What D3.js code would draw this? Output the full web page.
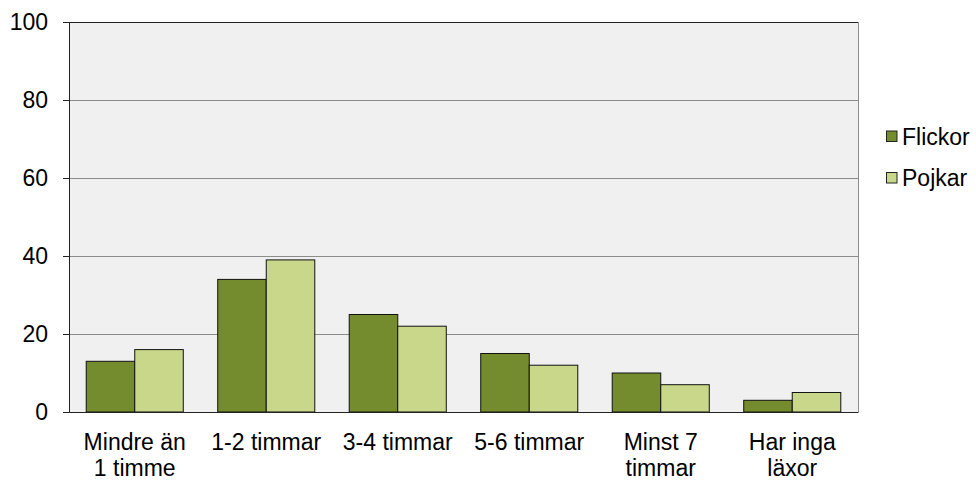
<!DOCTYPE html>
<html><head><meta charset="utf-8">
<script src="https://cdn.jsdelivr.net/npm/d3@7"></script>
<style>body{margin:0;background:#fff}svg{display:block}text{font-family:Arial,"Liberation Sans",sans-serif}</style>
</head><body>
<svg id="c" width="976" height="480"></svg>
<script>
const categories = [["Mindre än","1 timme"],["1-2 timmar"],["3-4 timmar"],["5-6 timmar"],["Minst 7","timmar"],["Har inga","läxor"]];
const seriesNames = ["Flickor","Pojkar"];
const flickor = [13,34,25,15,10,3];
const pojkar = [16,39,22,12,7,5];
const yTicks = [0,20,40,60,80,100];
const colors = ["#748B2E","#C8D78A"];
const FS = 23;

const svg = d3.select("#c");
const L=69,R=858,T=22,B=412;
const x = d3.scaleBand().domain(d3.range(categories.length)).range([L,R]).paddingInner(0.262).paddingOuter(0.131);
const x0 = d3.scaleBand().domain(d3.range(categories.length)).range([L,R]);
const xs = d3.scaleBand().domain([0,1]).range([0,x.bandwidth()]);
const y = d3.scaleLinear().domain([0,100]).range([B,T]);

svg.append("rect").attr("x",L).attr("y",T).attr("width",R-L).attr("height",B-T).attr("fill","#F0F0F0");
svg.append("g").selectAll("line").data(yTicks.filter(d=>d>0)).join("line")
  .attr("x1",L).attr("x2",R).attr("y1",d=>y(d)).attr("y2",d=>y(d))
  .attr("stroke",d=>d===100?"#222":"#8c8c8c").attr("stroke-width",1).attr("shape-rendering","crispEdges");
svg.append("line").attr("x1",R).attr("x2",R).attr("y1",T).attr("y2",B).attr("stroke","#8c8c8c").attr("shape-rendering","crispEdges");

const data=[flickor,pojkar];
const g=svg.append("g");
data.forEach((vals,si)=>{
  g.selectAll(".b"+si).data(vals).join("rect")
   .attr("x",(d,i)=>x(i)+xs(si)).attr("width",xs.bandwidth())
   .attr("y",d=>y(d)).attr("height",d=>y(0)-y(d))
   .attr("fill",colors[si]).attr("stroke","#111").attr("stroke-width",1);
});

const ya=d3.axisLeft(y).tickValues(yTicks).tickSize(6).tickPadding(15);
const yg=svg.append("g").attr("transform",`translate(${L},0)`).call(ya);
yg.attr("font-size",FS).attr("font-family","Arial,'Liberation Sans',sans-serif");
yg.select(".domain").attr("stroke","#222");
yg.selectAll(".tick line").attr("stroke","#222");
yg.selectAll("text").attr("fill","#000");

const xa=d3.axisBottom(x0).tickSize(0).tickFormat("");
const xg=svg.append("g").attr("transform",`translate(0,${B})`).call(xa);
xg.select(".domain").attr("stroke","#222");
const lab=svg.append("g");
categories.forEach((c,i)=>{
  const t=lab.append("text").attr("x",x0(i)+x0.bandwidth()/2).attr("y",450).attr("text-anchor","middle").attr("font-size",FS);
  c.forEach((s,j)=>t.append("tspan").attr("x",x0(i)+x0.bandwidth()/2).attr("dy",j?26:0).text(s));
});

const lg=svg.append("g");
seriesNames.forEach((n,i)=>{
  const yy=136.5+i*41.5;
  lg.append("rect").attr("x",886.5).attr("y",yy-5.5).attr("width",10.5).attr("height",10.5).attr("fill",colors[i]).attr("stroke","#222");
  lg.append("text").attr("x",902).attr("y",yy+8).attr("font-size",FS).text(n);
});
</script>
</body></html>
